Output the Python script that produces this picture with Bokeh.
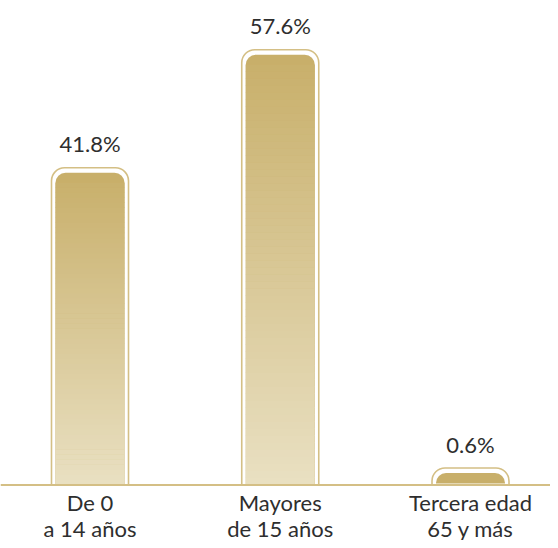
from bokeh.plotting import figure
from bokeh.models import Range1d, Span
from bokeh.core.properties import value
from bokeh.embed import file_html
from bokeh.resources import INLINE

# ---- data ----
categories = ["De 0\na 14 años", "Mayores\nde 15 años", "Tercera edad\n65 y más"]
values = [41.8, 57.6, 0.6]
value_labels = ["41.8%", "57.6%", "0.6%"]

# ---- layout constants (pixels) ----
W, H = 550, 540
px_per_unit = 7.47
baseline_px = 484.5
x_step_px = 190.25
x0_px = 89.5

y_start = -(H - baseline_px) / px_per_unit
y_end = baseline_px / px_per_unit
x_start = -x0_px / x_step_px
x_end = (W - x0_px) / x_step_px

gold_line = "#d4bf85"
top_col = (200, 175, 106)
bot_col = (233, 224, 194)
text_col = "#2e2e2e"
font = value("Lato")

p = figure(width=W, height=H,
           x_range=Range1d(x_start, x_end), y_range=Range1d(y_start, y_end),
           output_backend="svg", toolbar_location=None, min_border=0,
           x_axis_location=None, y_axis_location=None)
p.grid.visible = False
p.outline_line_color = None
p.background_fill_color = "white"
p.border_fill_color = "white"

xs = list(range(len(values)))
fill_w = 69 / x_step_px
outline_w = 77 / x_step_px
min_units = 12 / px_per_unit
top_disp = [max(v, min_units) for v in values]
outline_top = [t + 5 / px_per_unit for t in top_disp]

# outline
p.vbar(x=xs, top=outline_top, bottom=0, width=outline_w,
       fill_color="white", line_color=gold_line, line_width=1.6,
       border_radius=(13, 13, 0, 0))

def hexc(c):
    return "#%02x%02x%02x" % tuple(int(round(v)) for v in c)

# rounded top part
p.vbar(x=xs, top=top_disp, bottom=0, width=fill_w,
       fill_color=hexc(top_col), line_color=None,
       border_radius=(10, 10, 0, 0))

# gradient slices
sx, sb, st, sc = [], [], [], []
n = 60
overlap = 0.6 / px_per_unit
for i, t in enumerate(top_disp):
    g_top = t - 10 / px_per_unit
    if g_top <= 0:
        continue
    for k in range(n):
        b = g_top * k / n
        tp = g_top * (k + 1) / n
        mid = (b + tp) / 2
        f = mid / t
        c = tuple(bot_col[j] + (top_col[j] - bot_col[j]) * f for j in range(3))
        sx.append(xs[i]); sb.append(b); st.append(min(tp + overlap, g_top)); sc.append(hexc(c))
p.vbar(x=sx, bottom=sb, top=st, width=fill_w, fill_color=sc, line_color=None)

# baseline
p.add_layout(Span(location=0, dimension="width", line_color=gold_line, line_width=2))

# value labels
p.text(x=xs, y=top_disp, text=value_labels, text_font=font, text_font_size="22px",
       text_align="center", text_baseline="alphabetic", y_offset=-29, text_color=text_col)

# category labels
line1 = [c.split("\n")[0] for c in categories]
line2 = [c.split("\n")[1] for c in categories]
p.text(x=xs, y=[0] * len(xs), text=line1, text_font=font, text_font_size="22px",
       text_align="center", text_baseline="alphabetic", y_offset=17.5, text_color=text_col)
p.text(x=xs, y=[0] * len(xs), text=line2, text_font=font, text_font_size="22px",
       text_align="center", text_baseline="alphabetic", y_offset=43, text_color=text_col)

open("out.html", "w").write(file_html(p, INLINE))
